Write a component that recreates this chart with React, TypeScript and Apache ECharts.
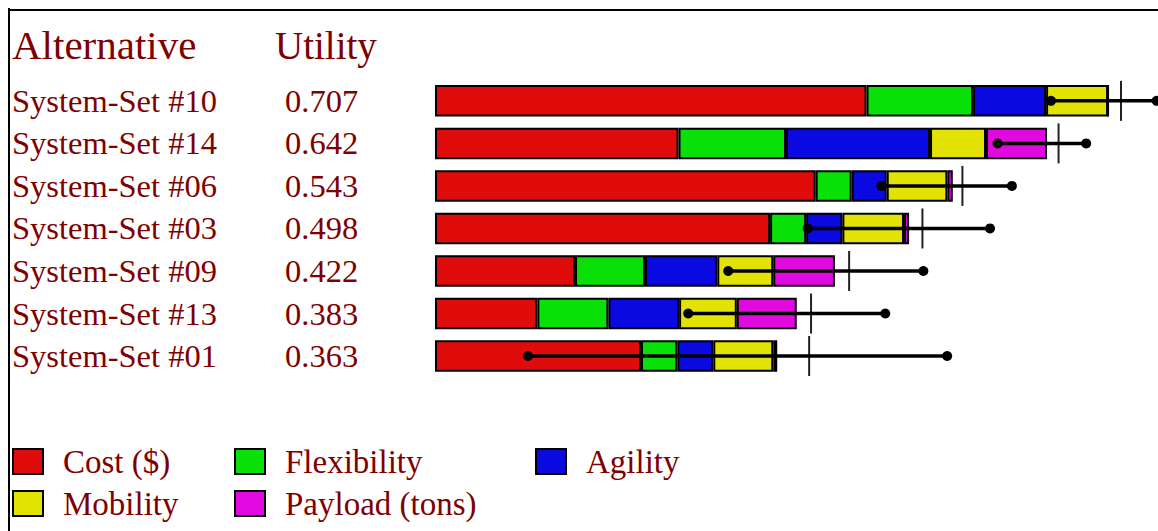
import React, { useEffect, useRef } from "react";
import * as echarts from "echarts";

const categories = [
  "System-Set #10",
  "System-Set #14",
  "System-Set #06",
  "System-Set #03",
  "System-Set #09",
  "System-Set #13",
  "System-Set #01",
];
const utilities = ["0.707", "0.642", "0.543", "0.498", "0.422", "0.383", "0.363"];

const seriesNames = ["Cost ($)", "Flexibility", "Agility", "Mobility", "Payload (tons)"];
const cost = [0.4533, 0.2558, 0.3999, 0.352, 0.1471, 0.1075, 0.2164];
const flexibility = [0.1119, 0.1129, 0.0378, 0.0378, 0.0735, 0.0746, 0.0381];
const agility = [0.0767, 0.1513, 0.0368, 0.0381, 0.0759, 0.0743, 0.0378];
const mobility = [0.0651, 0.0588, 0.0637, 0.0648, 0.0588, 0.0606, 0.063];
const payload = [0, 0.0641, 0.0057, 0.0053, 0.0648, 0.063, 0.0042];

const rangeLow = [0.647, 0.591, 0.469, 0.3915, 0.308, 0.266, 0.0977];
const rangeHigh = [0.758, 0.684, 0.606, 0.583, 0.513, 0.473, 0.538];
const meanUtility = [0.7206, 0.655, 0.554, 0.512, 0.435, 0.395, 0.393];

const colors = ["#e00b0b", "#08e008", "#0909e0", "#e2e204", "#e009e0"];
const textColor = "#800000";
const serif = "'Liberation Serif', 'Times New Roman', serif";

export default function App() {
  const ref = useRef<HTMLDivElement>(null);

  useEffect(() => {
    if (!ref.current) return;
    const chart = echarts.init(ref.current, null, { renderer: "svg" });
    const values = [cost, flexibility, agility, mobility, payload];

    const barSeries = seriesNames.map((name, i) => ({
      name,
      type: "bar",
      stack: "total",
      barWidth: 31.5,
      z: 2,
      data: values[i],
      itemStyle: { color: colors[i], borderColor: "#000", borderWidth: 2 },
    }));

    const rangeData = categories.map((_, i) => [rangeLow[i], rangeHigh[i], meanUtility[i], i]);

    const legendPos = [
      { left: 12, top: 445 },
      { left: 234, top: 445 },
      { left: 535, top: 445 },
      { left: 12, top: 487 },
      { left: 234, top: 487 },
    ];

    chart.setOption({
      animation: false,
      backgroundColor: "#fff",
      grid: {
        left: 435,
        top: 79.6,
        width: 723.52,
        height: 297.7,
        containLabel: false,
        outerBoundsMode: "none",
      },
      xAxis: { type: "value", min: 0, max: 0.76, show: false },
      yAxis: {
        type: "category",
        inverse: true,
        data: categories,
        axisLine: { show: false },
        axisTick: { show: false },
        splitLine: { show: false },
        axisLabel: {
          align: "left",
          margin: 423,
          formatter: (value: string, index: number) => `{n|${value}}{u|${utilities[index]}}`,
          rich: {
            n: { width: 273, fontSize: 32.5, fontFamily: serif, color: textColor },
            u: { fontSize: 32.5, fontFamily: serif, color: textColor },
          },
        },
      },
      legend: seriesNames.map((name, i) => ({
        ...legendPos[i],
        data: [name],
        padding: 0,
        itemWidth: 30,
        itemHeight: 25,
        itemGap: 0,
        icon: "rect",
        selectedMode: false,
        itemStyle: { borderColor: "#000", borderWidth: 2 },
        textStyle: { fontSize: 33, fontFamily: serif, color: textColor, padding: [0, 0, 0, 15] },
      })),
      graphic: [
        { type: "line", shape: { x1: 8, y1: 10, x2: 1158, y2: 10 }, style: { stroke: "#000", lineWidth: 2 } },
        { type: "line", shape: { x1: 9, y1: 8, x2: 9, y2: 531 }, style: { stroke: "#000", lineWidth: 2 } },
        {
          type: "text",
          x: 12,
          y: 45,
          style: { text: "Alternative", fontSize: 41, fontFamily: serif, fill: textColor, verticalAlign: "middle" },
        },
        {
          type: "text",
          x: 275,
          y: 45,
          style: { text: "Utility", fontSize: 39, fontFamily: serif, fill: textColor, verticalAlign: "middle" },
        },
      ],
      series: [
        ...barSeries,
        {
          type: "custom",
          name: "range",
          z: 10,
          data: rangeData,
          encode: { x: [0, 1, 2], y: 3 },
          renderItem: (params: any, api: any) => {
            const idx = api.value(3);
            const p1 = api.coord([api.value(0), idx]);
            const p2 = api.coord([api.value(1), idx]);
            const pm = api.coord([api.value(2), idx]);
            const cy = p1[1];
            return {
              type: "group",
              children: [
                {
                  type: "line",
                  shape: { x1: pm[0], y1: cy - 20, x2: pm[0], y2: cy + 20 },
                  style: { stroke: "#222", lineWidth: 2 },
                },
                {
                  type: "line",
                  shape: { x1: p1[0], y1: cy, x2: p2[0], y2: cy },
                  style: { stroke: "#000", lineWidth: 3.5 },
                },
                { type: "circle", shape: { cx: p1[0], cy, r: 5 }, style: { fill: "#000" } },
                { type: "circle", shape: { cx: p2[0], cy, r: 5 }, style: { fill: "#000" } },
              ],
            };
          },
        },
      ],
    });

    return () => chart.dispose();
  }, []);

  return (
    <div
      ref={ref}
      style={{ position: "fixed", left: 0, top: 0, width: 1158, height: 531, background: "#fff" }}
    />
  );
}
